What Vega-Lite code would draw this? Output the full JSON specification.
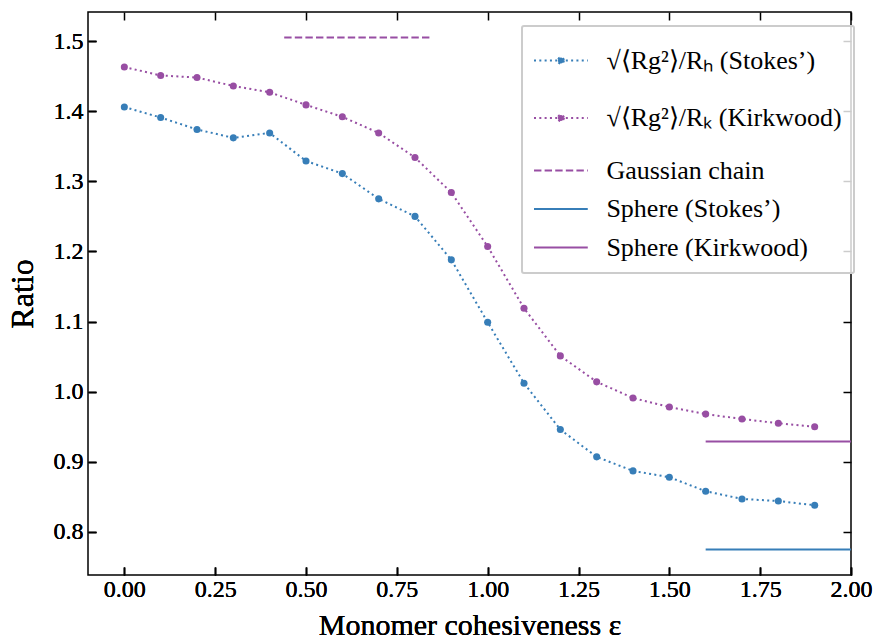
{
  "$schema": "https://vega.github.io/schema/vega-lite/v6.json",
  "width": 763,
  "height": 563,
  "autosize": {"type": "none"},
  "padding": {"left": 88, "top": 12, "right": 25, "bottom": 64},
  "background": "white",
  "datasets": {
    "curves": [
      {"series": "√⟨Rg²⟩/Rₕ (Stokes’)", "eps": 0.0, "ratio": 1.406},
      {"series": "√⟨Rg²⟩/Rₕ (Stokes’)", "eps": 0.1, "ratio": 1.391},
      {"series": "√⟨Rg²⟩/Rₕ (Stokes’)", "eps": 0.2, "ratio": 1.374},
      {"series": "√⟨Rg²⟩/Rₕ (Stokes’)", "eps": 0.3, "ratio": 1.362},
      {"series": "√⟨Rg²⟩/Rₕ (Stokes’)", "eps": 0.4, "ratio": 1.369},
      {"series": "√⟨Rg²⟩/Rₕ (Stokes’)", "eps": 0.5, "ratio": 1.329},
      {"series": "√⟨Rg²⟩/Rₕ (Stokes’)", "eps": 0.6, "ratio": 1.311},
      {"series": "√⟨Rg²⟩/Rₕ (Stokes’)", "eps": 0.7, "ratio": 1.275},
      {"series": "√⟨Rg²⟩/Rₕ (Stokes’)", "eps": 0.8, "ratio": 1.250},
      {"series": "√⟨Rg²⟩/Rₕ (Stokes’)", "eps": 0.9, "ratio": 1.188},
      {"series": "√⟨Rg²⟩/Rₕ (Stokes’)", "eps": 1.0, "ratio": 1.099},
      {"series": "√⟨Rg²⟩/Rₕ (Stokes’)", "eps": 1.1, "ratio": 1.012},
      {"series": "√⟨Rg²⟩/Rₕ (Stokes’)", "eps": 1.2, "ratio": 0.946},
      {"series": "√⟨Rg²⟩/Rₕ (Stokes’)", "eps": 1.3, "ratio": 0.907},
      {"series": "√⟨Rg²⟩/Rₕ (Stokes’)", "eps": 1.4, "ratio": 0.887},
      {"series": "√⟨Rg²⟩/Rₕ (Stokes’)", "eps": 1.5, "ratio": 0.878},
      {"series": "√⟨Rg²⟩/Rₕ (Stokes’)", "eps": 1.6, "ratio": 0.858},
      {"series": "√⟨Rg²⟩/Rₕ (Stokes’)", "eps": 1.7, "ratio": 0.847},
      {"series": "√⟨Rg²⟩/Rₕ (Stokes’)", "eps": 1.8, "ratio": 0.844},
      {"series": "√⟨Rg²⟩/Rₕ (Stokes’)", "eps": 1.9, "ratio": 0.838},
      {"series": "√⟨Rg²⟩/Rₖ (Kirkwood)", "eps": 0.0, "ratio": 1.463},
      {"series": "√⟨Rg²⟩/Rₖ (Kirkwood)", "eps": 0.1, "ratio": 1.451},
      {"series": "√⟨Rg²⟩/Rₖ (Kirkwood)", "eps": 0.2, "ratio": 1.448},
      {"series": "√⟨Rg²⟩/Rₖ (Kirkwood)", "eps": 0.3, "ratio": 1.436},
      {"series": "√⟨Rg²⟩/Rₖ (Kirkwood)", "eps": 0.4, "ratio": 1.427},
      {"series": "√⟨Rg²⟩/Rₖ (Kirkwood)", "eps": 0.5, "ratio": 1.409},
      {"series": "√⟨Rg²⟩/Rₖ (Kirkwood)", "eps": 0.6, "ratio": 1.392},
      {"series": "√⟨Rg²⟩/Rₖ (Kirkwood)", "eps": 0.7, "ratio": 1.369},
      {"series": "√⟨Rg²⟩/Rₖ (Kirkwood)", "eps": 0.8, "ratio": 1.334},
      {"series": "√⟨Rg²⟩/Rₖ (Kirkwood)", "eps": 0.9, "ratio": 1.284},
      {"series": "√⟨Rg²⟩/Rₖ (Kirkwood)", "eps": 1.0, "ratio": 1.207},
      {"series": "√⟨Rg²⟩/Rₖ (Kirkwood)", "eps": 1.1, "ratio": 1.119},
      {"series": "√⟨Rg²⟩/Rₖ (Kirkwood)", "eps": 1.2, "ratio": 1.051},
      {"series": "√⟨Rg²⟩/Rₖ (Kirkwood)", "eps": 1.3, "ratio": 1.014},
      {"series": "√⟨Rg²⟩/Rₖ (Kirkwood)", "eps": 1.4, "ratio": 0.991},
      {"series": "√⟨Rg²⟩/Rₖ (Kirkwood)", "eps": 1.5, "ratio": 0.978},
      {"series": "√⟨Rg²⟩/Rₖ (Kirkwood)", "eps": 1.6, "ratio": 0.968},
      {"series": "√⟨Rg²⟩/Rₖ (Kirkwood)", "eps": 1.7, "ratio": 0.961},
      {"series": "√⟨Rg²⟩/Rₖ (Kirkwood)", "eps": 1.8, "ratio": 0.955},
      {"series": "√⟨Rg²⟩/Rₖ (Kirkwood)", "eps": 1.9, "ratio": 0.950},
      {"series": "Gaussian chain", "eps": 0.44, "ratio": 1.505},
      {"series": "Gaussian chain", "eps": 0.84, "ratio": 1.505},
      {"series": "Sphere (Stokes’)", "eps": 1.6, "ratio": 0.775},
      {"series": "Sphere (Stokes’)", "eps": 2.0, "ratio": 0.775},
      {"series": "Sphere (Kirkwood)", "eps": 1.6, "ratio": 0.929},
      {"series": "Sphere (Kirkwood)", "eps": 2.0, "ratio": 0.929}
    ]
  },
  "data": {"name": "curves"},
  "encoding": {
    "x": {
      "field": "eps", "type": "quantitative",
      "scale": {"domain": [-0.1, 2.0], "nice": false, "zero": false},
      "axis": {
        "orient": "bottom",
        "values": [0, 0.25, 0.5, 0.75, 1.0, 1.25, 1.5, 1.75, 2.0],
        "format": ".2f",
        "title": "Monomer cohesiveness ε",
        "labelPadding": 10,
        "titleBaseline": "alphabetic",
        "titleY": 59
      }
    },
    "y": {
      "field": "ratio", "type": "quantitative",
      "scale": {"domain": [0.7385, 1.5415], "nice": false, "zero": false},
      "axis": {
        "orient": "left",
        "values": [0.8, 0.9, 1.0, 1.1, 1.2, 1.3, 1.4, 1.5],
        "format": ".1f",
        "title": "Ratio",
        "labelPadding": 13,
        "titleBaseline": "alphabetic",
        "titleAngle": -90,
        "titleX": -56,
        "titleFontSize": 32
      }
    },
    "color": {
      "field": "series", "type": "nominal",
      "scale": {
        "domain": ["√⟨Rg²⟩/Rₕ (Stokes’)", "√⟨Rg²⟩/Rₖ (Kirkwood)", "Gaussian chain", "Sphere (Stokes’)", "Sphere (Kirkwood)"],
        "range": ["#377eb8", "#984ea3", "#984ea3", "#377eb8", "#984ea3"]
      },
      "legend": {
        "title": null,
        "orient": "none",
        "legendX": 434,
        "legendY": 14,
        "padding": 12,
        "symbolType": "stroke",
        "symbolSize": 1849,
        "symbolStrokeWidth": 2,
        "symbolOffset": 4.4,
        "labelOffset": 23,
        "rowPadding": 2.5,
        "labelFont": "Liberation Serif",
        "labelFontSize": 26,
        "labelColor": "black",
        "labelLimit": 400,
        "strokeColor": "#cccccc",
        "fillColor": "rgba(255,255,255,0.8)",
        "cornerRadius": 2,
        "encode": {
          "legend": {"update": {"strokeWidth": {"value": 2}}},
          "symbols": {
            "update": {
              "shape": {"signal": "indexof(datum.value, '√') === 0 ? 'M0,-1.05M-1.25,0H1.25M0.14,0C0.14,0.077,0.077,0.14,0,0.14C-0.077,0.14,-0.14,0.077,-0.14,0C-0.14,-0.077,-0.077,-0.14,0,-0.14C0.077,-0.14,0.14,-0.077,0.14,0ZM0,1.05' : 'M-1.25,0H1.25'"},
              "fill": {"signal": "indexof(datum.value, '√') === 0 ? (indexof(datum.value, 'Stokes') > 0 ? '#377eb8' : '#984ea3') : 'transparent'"},
              "fillOpacity": {"value": 1},
              "opacity": {"value": 1},
              "strokeDash": {"signal": "indexof(datum.value, '√') === 0 ? [2, 3.3] : (datum.value === 'Gaussian chain' ? [7.4, 3.2] : [1, 0])"}
            }
          }
        }
      }
    }
  },
  "layer": [
    {
      "transform": [{"filter": "indexof(datum.series, '√') === 0"}],
      "mark": {"type": "line", "strokeWidth": 2, "strokeDash": [2, 3.3], "clip": true}
    },
    {
      "transform": [{"filter": "datum.series === 'Gaussian chain'"}],
      "mark": {"type": "line", "strokeWidth": 2, "strokeDash": [7.4, 3.2], "clip": true}
    },
    {
      "transform": [{"filter": "indexof(datum.series, 'Sphere') === 0"}],
      "mark": {"type": "line", "strokeWidth": 2, "clip": true}
    },
    {
      "transform": [{"filter": "indexof(datum.series, '√') === 0"}],
      "mark": {"type": "point", "filled": true, "size": 50, "opacity": 1},
      "encoding": {
        "x": {
          "field": "eps", "type": "quantitative",
          "axis": {"orient": "top", "values": [0, 0.25, 0.5, 0.75, 1.0, 1.25, 1.5, 1.75, 2.0], "labels": false, "title": null}
        },
        "y": {
          "field": "ratio", "type": "quantitative",
          "axis": {"orient": "right", "values": [0.8, 0.9, 1.0, 1.1, 1.2, 1.3, 1.4, 1.5], "labels": false, "title": null}
        },
        "color": {"field": "series", "type": "nominal", "legend": null}
      }
    }
  ],
  "resolve": {"axis": {"x": "independent", "y": "independent"}},
  "config": {
    "view": {"stroke": "black", "strokeWidth": 1.5},
    "axis": {
      "domain": false,
      "grid": false,
      "tickSize": -8,
      "tickWidth": 1.5,
      "tickColor": "black",
      "labelFont": "Liberation Serif",
      "labelFontSize": 24,
      "labelColor": "black",
      "labelOverlap": false,
      "labelFlush": false,
      "labelBound": false,
      "titleFont": "Liberation Serif",
      "titleFontSize": 30,
      "titleFontWeight": "normal",
      "titleColor": "black"
    }
  }
}
